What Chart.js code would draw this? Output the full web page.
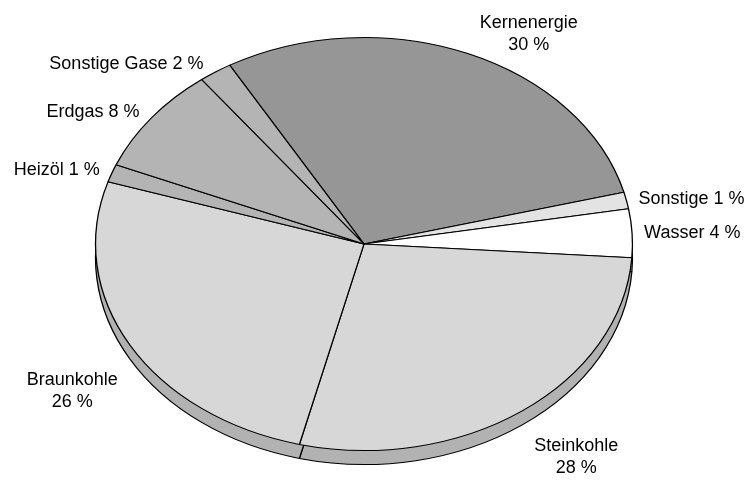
<!DOCTYPE html>
<html>
<head>
<meta charset="utf-8">
<script src="https://cdn.jsdelivr.net/npm/chart.js@4.4.0/dist/chart.umd.min.js"></script>
<style>
  html, body { margin: 0; padding: 0; background: #fff; }
  #wrap { width: 749px; height: 484px; position: relative; }
</style>
</head>
<body>
<div id="wrap"><canvas id="chart"></canvas></div>
<script>
// slices, clockwise starting at Kernenergie
const categories = ['Kernenergie', 'Sonstige', 'Wasser', 'Steinkohle', 'Braunkohle', 'Heizöl', 'Erdgas', 'Sonstige Gase'];
const shares = [29.3, 1.3, 3.8, 27.8, 26.0, 1.4, 8.4, 2.0];
const shareLabels = ['30 %', '1 %', '4 %', '28 %', '26 %', '1 %', '8 %', '2 %'];
const wrappedNames = ['Kernenergie', 'Steinkohle', 'Braunkohle'];

const fillColors = ['#969696', '#e3e3e3', '#ffffff', '#d7d7d7', '#d7d7d7', '#b4b4b4', '#b4b4b4', '#b4b4b4'];
const rimColors = ['#7a7a7a', '#c0c0c0', '#d0d0d0', '#b2b2b2', '#b2b2b2', '#939393', '#939393', '#939393'];

const stretchX = 1.3;   // pie is drawn as a flat ellipse
const depth = 14;       // thickness of the disc
const fontCss = '18px "Liberation Sans", Arial, sans-serif';
const lineH = 22;

const canvas = document.querySelector('#chart');
const ctx = canvas.getContext('2d');

function stretch(c, cx, dy) {
    c.translate(cx, dy);
    c.scale(stretchX, 1);
    c.translate(-cx, 0);
}

const ellipsePlugin = {
    id: 'ellipse',
    beforeDatasetDraw(chart, args) {
        const c = chart.ctx;
        const arcs = args.meta.data;
        if (!arcs.length) return;
        const cx = arcs[0].x;
        // side of the disc: same slices, shifted down and darker
        c.save();
        stretch(c, cx, depth);
        arcs.forEach((arc, i) => {
            const rim = Object.create(arc);
            rim.options = Object.assign({}, arc.options, {backgroundColor: rimColors[i]});
            rim.draw(c);
        });
        c.restore();
        c.save();
        stretch(c, cx, 0);
    },
    afterDatasetDraw(chart) {
        chart.ctx.restore();
    },
    afterDraw(chart) {
        const c = chart.ctx;
        const arcs = chart.getDatasetMeta(0).data;
        c.save();
        c.font = fontCss;
        c.fillStyle = '#000';
        c.textBaseline = 'middle';
        c.textAlign = 'center';
        arcs.forEach((arc, i) => {
            const {x, y, startAngle, endAngle, outerRadius} = arc.getProps(['x', 'y', 'startAngle', 'endAngle', 'outerRadius'], true);
            const mid = (startAngle + endAngle) / 2;
            const px = x + stretchX * outerRadius * Math.cos(mid);
            const py = y + outerRadius * Math.sin(mid);
            const len = Math.hypot(px - x, py - y);
            const ux = (px - x) / len, uy = (py - y) / len;

            const name = categories[i];
            const lines = wrappedNames.includes(name) ? [name, shareLabels[i]] : [name + ' ' + shareLabels[i]];
            const w = Math.max(...lines.map(l => c.measureText(l).width));
            const h = lines.length * lineH;

            let left = ux > 0 ? px + 12 : px - 12 - w;
            let top = uy > 0.3 ? py + depth + 10 : py + uy * h / 2 - h / 2;
            left = Math.min(Math.max(left, 2), chart.width - 2 - w);
            top = Math.min(Math.max(top, 4), chart.height - 4 - h);

            lines.forEach((l, k) => c.fillText(l, left + w / 2, top + lineH / 2 + k * lineH));
        });
        c.restore();
    }
};

const chart = new Chart(ctx, {
    type: 'pie',
    data: {
        labels: categories,
        datasets: [{
            data: shares,
            backgroundColor: fillColors,
            borderColor: '#000',
            borderWidth: 1,
            clip: false
        }]
    },
    options: {
        responsive: true,
        maintainAspectRatio: false,
        animation: false,
        events: [],
        rotation: -30,
        layout: {padding: {left: 157, right: 178, top: 37, bottom: 33}},
        plugins: {
            legend: {display: false},
            tooltip: {enabled: false}
        }
    },
    plugins: [ellipsePlugin]
});
</script>
</body>
</html>
